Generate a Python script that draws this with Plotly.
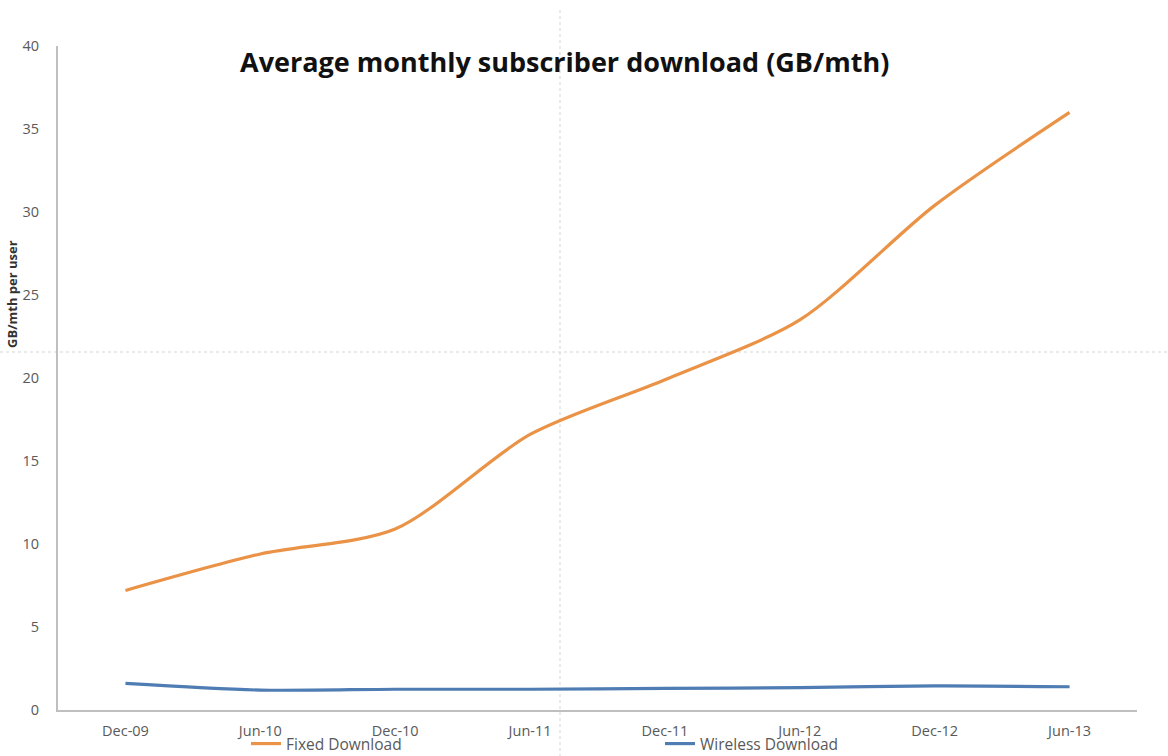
import plotly.graph_objects as go

periods = ["Dec-09", "Jun-10", "Dec-10", "Jun-11", "Dec-11", "Jun-12", "Dec-12", "Jun-13"]
fixed_download = [7.2, 9.4, 10.9, 16.6, 19.9, 23.5, 30.4, 36.0]
wireless_download = [1.6, 1.2, 1.25, 1.25, 1.3, 1.35, 1.45, 1.4]

W, H = 1168, 756
ML, MR, MT, MB = 58, 31, 46, 46
FONT = "Open Sans, Lato, sans-serif"

fig = go.Figure()
fig.add_trace(go.Scatter(x=periods, y=fixed_download, name="Fixed Download", mode="lines",
                         line=dict(color="#EA9347", width=3.2, shape="spline", smoothing=0.8)))
fig.add_trace(go.Scatter(x=periods, y=wireless_download, name="Wireless Download", mode="lines",
                         line=dict(color="#4F7DB3", width=3.2, shape="spline", smoothing=0.8)))

pw = W - ML - MR
ph = H - MT - MB
fig.update_layout(
    width=W, height=H,
    margin=dict(l=ML, r=MR, t=MT, b=MB, autoexpand=False),
    paper_bgcolor="white", plot_bgcolor="white",
    font=dict(family=FONT, color="#595959", size=14),
    showlegend=True,
    legend=dict(orientation="h", xref="container", yref="container",
                x=246 / W, xanchor="left", y=(H - 744) / H, yanchor="middle",
                font=dict(size=15.5, color="#595959"), entrywidth=369, entrywidthmode="pixels",
                bgcolor="rgba(0,0,0,0)", itemwidth=30, tracegroupgap=0),
    xaxis=dict(type="category", range=[-0.5, 7.5], showgrid=False, zeroline=False,
               showline=True, linecolor="#BFBFBF", linewidth=2,
               ticks="outside", ticklen=7, tickcolor="rgba(0,0,0,0)",
               tickfont=dict(size=14.5, color="#595959")),
    yaxis=dict(range=[0, 40], dtick=5, showgrid=False, zeroline=False,
               showline=True, linecolor="#BFBFBF", linewidth=2,
               ticks="outside", ticklen=14, tickcolor="rgba(0,0,0,0)",
               tickfont=dict(size=14.5, color="#595959")),
    annotations=[
        dict(text="<b>Average monthly subscriber download (GB/mth)</b>", xref="paper", yref="paper",
             x=(564 - ML) / pw, y=(H - MB - 62) / ph, xanchor="center", yanchor="middle",
             showarrow=False, font=dict(size=27, color="#111111", family=FONT)),
        dict(text="<b>GB/mth per user</b>", xref="paper", yref="paper", textangle=-90,
             x=(12 - ML) / pw, y=(H - MB - 294) / ph, xanchor="center", yanchor="middle",
             showarrow=False, font=dict(size=13, color="#333333", family=FONT)),
    ],
    shapes=[
        dict(type="line", xref="paper", yref="paper", x0=(560 - ML) / pw, x1=(560 - ML) / pw,
             y0=(H - MB - 10) / ph, y1=(H - MB - 756) / ph, line=dict(color="#D5D5D5", width=1, dash="dot"),
             layer="below"),
        dict(type="line", xref="paper", yref="paper", x0=(0 - ML) / pw, x1=(1168 - ML) / pw,
             y0=(H - MB - 352) / ph, y1=(H - MB - 352) / ph, line=dict(color="#D5D5D5", width=1, dash="dot"),
             layer="below"),
    ],
)

fig.write_html("out.html")
